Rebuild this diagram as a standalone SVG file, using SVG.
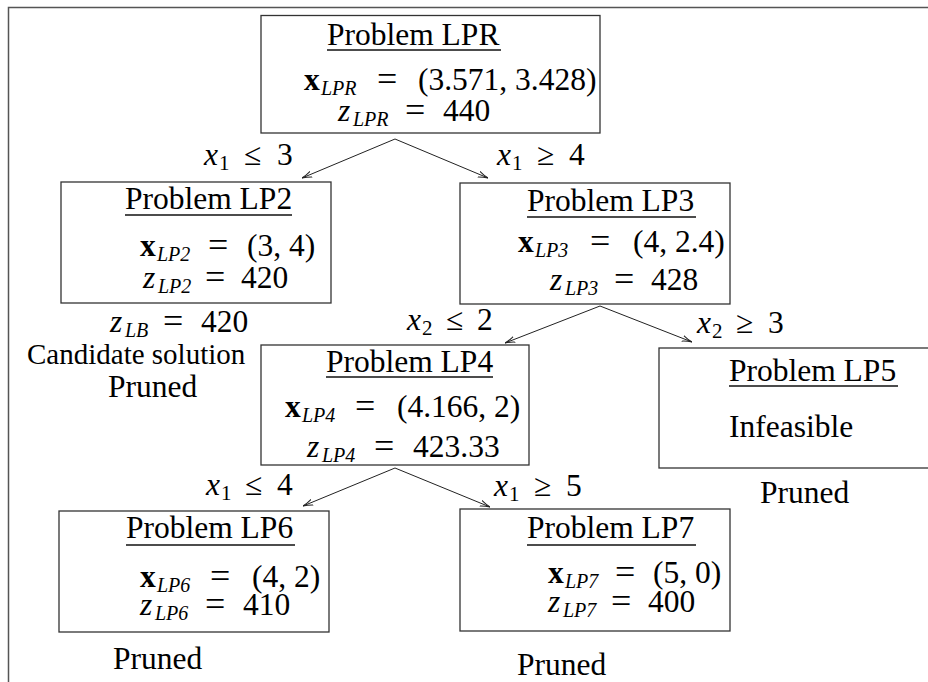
<svg xmlns="http://www.w3.org/2000/svg" width="928" height="682" viewBox="0 0 928 682">
<style>
text{font-family:"Liberation Serif","Times New Roman",serif;fill:#000;font-size:31.5px}
.box{fill:#fff;stroke:#333;stroke-width:1.3}
.ul{stroke:#111;stroke-width:1.4}
.sub{font-size:20px;font-style:italic}
.subn{font-size:21px}
.it{font-style:italic}
.bf{font-weight:bold}
.eq{font-size:36px}
.sm{font-size:29px}
.edge{fill:none;stroke:#222;stroke-width:1}
.frame{fill:none;stroke:#555;stroke-width:1.5}
</style>
<defs>
<marker id="ah" viewBox="0 0 10 10" refX="10" refY="5" markerWidth="10" markerHeight="10" markerUnits="userSpaceOnUse" orient="auto">
<path d="M0,2 Q5,4.2 10,5 Q5,5.8 0,8" fill="none" stroke="#222" stroke-width="1"/>
</marker>
</defs>
<rect width="928" height="682" fill="#fff"/>
<path class="frame" d="M8.5,682 V7.5 H928"/>

<g id="connectors">
<line class="edge" x1="395" y1="139" x2="302" y2="178" marker-end="url(#ah)"/>
<line class="edge" x1="395" y1="139" x2="488" y2="178" marker-end="url(#ah)"/>
<line class="edge" x1="600" y1="306" x2="505" y2="343" marker-end="url(#ah)"/>
<line class="edge" x1="600" y1="306" x2="692" y2="342" marker-end="url(#ah)"/>
<line class="edge" x1="395" y1="468" x2="303" y2="506" marker-end="url(#ah)"/>
<line class="edge" x1="395" y1="468" x2="490" y2="507" marker-end="url(#ah)"/>
<text><tspan class="it" x="204" y="165">x</tspan><tspan class="subn" x="219" y="170">1</tspan><tspan x="244" y="165">≤</tspan><tspan x="277" y="165">3</tspan></text>
<text><tspan class="it" x="497" y="165">x</tspan><tspan class="subn" x="512" y="170">1</tspan><tspan x="537" y="165">≥</tspan><tspan x="569" y="165">4</tspan></text>
<text><tspan class="it" x="407" y="330">x</tspan><tspan class="subn" x="422" y="335">2</tspan><tspan x="446" y="330">≤</tspan><tspan x="477" y="330">2</tspan></text>
<text><tspan class="it" x="697" y="333">x</tspan><tspan class="subn" x="712" y="338">2</tspan><tspan x="736" y="333">≥</tspan><tspan x="768" y="333">3</tspan></text>
<text><tspan class="it" x="206" y="495">x</tspan><tspan class="subn" x="221" y="500">1</tspan><tspan x="245" y="495">≤</tspan><tspan x="277" y="495">4</tspan></text>
<text><tspan class="it" x="494" y="496">x</tspan><tspan class="subn" x="509" y="501">1</tspan><tspan x="534" y="496">≥</tspan><tspan x="566" y="496">5</tspan></text>
</g>

<g id="LPR">
<rect class="box" x="261" y="15.5" width="339" height="117.5"/>
<text x="327" y="45">Problem LPR</text>
<line class="ul" x1="327" y1="50" x2="501" y2="50"/>
<text><tspan class="bf" x="304" y="90">x</tspan><tspan class="sub" x="321" y="95">LPR</tspan><tspan class="eq" x="377" y="91">=</tspan><tspan x="418" y="90">(3.571, 3.428)</tspan></text>
<text><tspan class="it" x="338" y="121">z</tspan><tspan class="sub" x="353" y="126">LPR</tspan><tspan class="eq" x="405" y="122">=</tspan><tspan x="443" y="121">440</tspan></text>
</g>

<g id="LP2">
<rect class="box" x="61" y="182" width="270" height="121"/>
<text x="125" y="209">Problem LP2</text>
<line class="ul" x1="125" y1="215" x2="292" y2="215"/>
<text><tspan class="bf" x="140" y="256">x</tspan><tspan class="sub" x="157" y="261">LP2</tspan><tspan class="eq" x="208" y="257">=</tspan><tspan x="247" y="256">(3, 4)</tspan></text>
<text><tspan class="it" x="143" y="288">z</tspan><tspan class="sub" x="158" y="293">LP2</tspan><tspan class="eq" x="205" y="289">=</tspan><tspan x="241" y="288">420</tspan></text>
<text><tspan class="it" x="110" y="332">z</tspan><tspan class="sub" x="125" y="337">LB</tspan><tspan class="eq" x="163" y="333">=</tspan><tspan x="201" y="332">420</tspan></text>
<text class="sm" x="27" y="364">Candidate solution</text>
<text x="108" y="397">Pruned</text>
</g>

<g id="LP3">
<rect class="box" x="460" y="183" width="270" height="121"/>
<text x="527" y="211">Problem LP3</text>
<line class="ul" x1="527" y1="217" x2="696" y2="217"/>
<text><tspan class="bf" x="518" y="252">x</tspan><tspan class="sub" x="535" y="257">LP3</tspan><tspan class="eq" x="590" y="253">=</tspan><tspan x="633" y="252">(4, 2.4)</tspan></text>
<text><tspan class="it" x="550" y="290">z</tspan><tspan class="sub" x="565" y="295">LP3</tspan><tspan class="eq" x="614" y="291">=</tspan><tspan x="651" y="290">428</tspan></text>
</g>

<g id="LP4">
<rect class="box" x="261" y="345" width="268" height="120"/>
<text x="326" y="372">Problem LP4</text>
<line class="ul" x1="326" y1="377" x2="493" y2="377"/>
<text><tspan class="bf" x="285" y="417">x</tspan><tspan class="sub" x="302" y="422">LP4</tspan><tspan class="eq" x="355" y="418">=</tspan><tspan x="397" y="417">(4.166, 2)</tspan></text>
<text><tspan class="it" x="307" y="457">z</tspan><tspan class="sub" x="322" y="462">LP4</tspan><tspan class="eq" x="374" y="458">=</tspan><tspan x="413" y="457">423.33</tspan></text>
</g>

<g id="LP5">
<rect class="box" x="659" y="348" width="290" height="120"/>
<text x="729" y="381">Problem LP5</text>
<line class="ul" x1="729" y1="386" x2="898" y2="386"/>
<text x="729" y="437">Infeasible</text>
<text x="760" y="503">Pruned</text>
</g>

<g id="LP6">
<rect class="box" x="59" y="511" width="270" height="121"/>
<text x="126" y="538">Problem LP6</text>
<line class="ul" x1="126" y1="545" x2="295" y2="545"/>
<text><tspan class="bf" x="140" y="587">x</tspan><tspan class="sub" x="157" y="592">LP6</tspan><tspan class="eq" x="210" y="588">=</tspan><tspan x="252" y="587">(4, 2)</tspan></text>
<text><tspan class="it" x="140" y="615">z</tspan><tspan class="sub" x="155" y="620">LP6</tspan><tspan class="eq" x="205" y="616">=</tspan><tspan x="243" y="615">410</tspan></text>
<text x="113" y="669">Pruned</text>
</g>

<g id="LP7">
<rect class="box" x="460" y="509" width="270" height="122"/>
<text x="527" y="538">Problem LP7</text>
<line class="ul" x1="527" y1="545" x2="696" y2="545"/>
<text><tspan class="bf" x="548" y="583">x</tspan><tspan class="sub" x="565" y="588">LP7</tspan><tspan class="eq" x="615" y="584">=</tspan><tspan x="653" y="583">(5, 0)</tspan></text>
<text><tspan class="it" x="548" y="612">z</tspan><tspan class="sub" x="563" y="617">LP7</tspan><tspan class="eq" x="611" y="613">=</tspan><tspan x="648" y="612">400</tspan></text>
<text x="517" y="675">Pruned</text>
</g>
</svg>
